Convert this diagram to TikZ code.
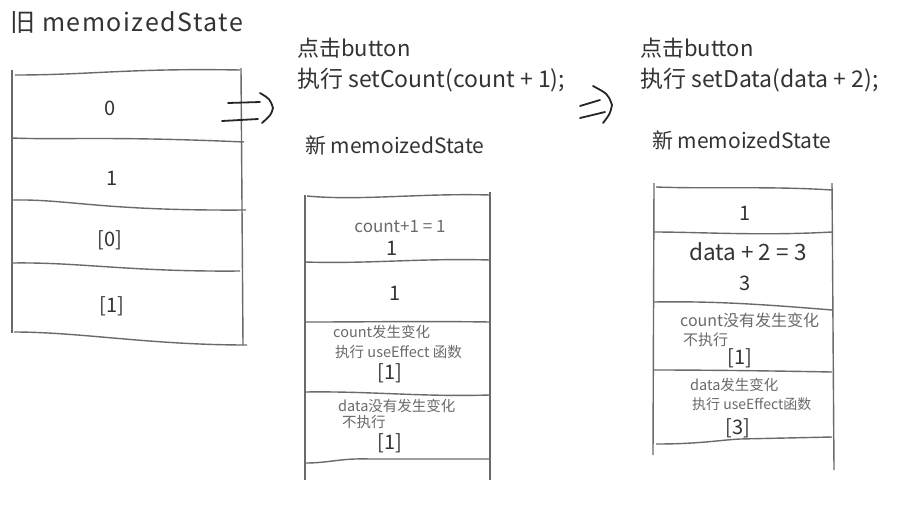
\documentclass[tikz,border=0pt]{standalone}
\usepackage{fontspec}
\setmainfont{Noto Sans CJK SC}
\usepackage{xcolor}
\usepackage{tikz}
\usetikzlibrary{calc, positioning}

\definecolor{ink}{HTML}{333333}
\definecolor{pen}{HTML}{6A6A6A}

\tikzset{
  title/.style={anchor=west, inner sep=0pt, text=ink, font=\fontsize{22}{26}\selectfont},
  val/.style={inner sep=0pt, text=ink, font=\fontsize{20}{24}\selectfont},
  note/.style={anchor=west, inner sep=0pt, text=pen, font=\fontsize{14.5}{17}\selectfont},
  edge/.style={draw=pen, line width=1.4pt},
  jump/.style={draw=black!85, line width=1.8pt, line cap=round}
}

\begin{document}
\begin{tikzpicture}[x=1pt, y=-1pt]
        \useasboundingbox[fill=white] (0,0) rectangle (915,512);

        % Tiêu đề
        \node[title, font=\fontsize{25}{29}\selectfont\addfontfeatures{LetterSpace=6}] (oldtitle) at (10,22) {旧 memoizedState};
        \node[title] (click1) at (297,48) {点击button};
        \node[title, font=\fontsize{23}{27}\selectfont] (run1) at (297,80) {执行 setCount(count + 1);};
        \node[title, font=\fontsize{21}{25}\selectfont] (newtitle1) at (305,145) {新 memoizedState};
        \node[title] (click2) at (640,48) {点击button};
        \node[title, font=\fontsize{23}{27}\selectfont] (run2) at (640,80) {执行 setData(data + 2);};
        \node[title, font=\fontsize{21}{25}\selectfont] (newtitle2) at (652,140) {新 memoizedState};

        % Bảng cũ
        \draw[edge] (12,70) -- (12,333);
        \draw[edge] (241,68) -- (243,345);
        \draw[edge] (15,75) .. controls (90,75) and (130,68) .. (240,70);
        \draw[edge] (12,138) .. controls (60,140) and (110,136) .. (244,142);
        \draw[edge] (12,200) .. controls (70,199) and (100,211) .. (246,210);
        \draw[edge] (12,263) .. controls (80,262) and (130,272) .. (240,271);
        \draw[edge] (14,332) .. controls (80,332) and (150,345) .. (247,345);

        \node[val] (old0) at (110,108) {0};
        \node[val] (old1) at (112,178) {1};
        \node[val] (olddep0) at (110,240) {[0]};
        \node[val] (olddep1) at (112,306) {[1]};

        % Mũi tên thứ nhất
        \draw[jump] (228,103) -- (260,102);
        \draw[jump] (222,121) -- (258,119);
        \draw[jump] (260,93) .. controls (270,99) .. (273,108) .. controls (271,115) .. (262,123);

        % Bảng mới sau setCount
        \draw[edge] (305,195) -- (305,480);
        \draw[edge] (490,192) -- (490,480);
        \draw[edge] (307,196) .. controls (360,201) and (420,193) .. (490,195);
        \draw[edge] (305,262) .. controls (370,264) and (420,258) .. (490,260);
        \draw[edge] (305,322) .. controls (370,322) and (420,321) .. (490,322);
        \draw[edge] (305,392) .. controls (370,391) and (420,397) .. (490,395);
        \draw[edge] (305,463) .. controls (330,463) and (340,458) .. (370,459) -- (490,459);

        \node[val, font=\fontsize{17}{20}\selectfont, text=pen] (sum1) at (400,227) {count+1 = 1};
        \node[val] (cnt1) at (392,248) {1};
        \node[val] (data1) at (395,293) {1};
        \node[note] (chg1) at (333,332) {count发生变化};
        \node[note] (eff1) at (335,352) {执行 useEffect 函数};
        \node[val] (dep1a) at (390,373) {[1]};
        \node[note] (same1) at (338,406) {data没有发生变化};
        \node[note] (skip1) at (342,422) {不执行};
        \node[val] (dep1b) at (390,443) {[1]};

        % Mũi tên thứ hai
        \draw[jump] (580,106) -- (600,100);
        \draw[jump] (580,118) -- (605,112);
        \draw[jump] (593,86) .. controls (608,94) .. (612,105) .. controls (610,114) .. (603,123);

        % Bảng mới sau setData
        \draw[edge] (654,183) -- (653,455);
        \draw[edge] (832,183) -- (834,470);
        \draw[edge] (656,187) .. controls (710,189) and (770,186) .. (832,190);
        \draw[edge] (654,232) .. controls (700,232) and (760,236) .. (832,232);
        \draw[edge] (654,302) .. controls (710,301) and (760,304) .. (832,310);
        \draw[edge] (654,370) .. controls (710,370) and (780,371) .. (832,372);
        \draw[edge] (656,444) .. controls (700,444) and (720,440) .. (740,439) -- (832,437);

        \node[val] (cnt2) at (745,213) {1};
        \node[val, font=\fontsize{22.5}{26}\selectfont] (sum2) at (748,252) {data + 2 = 3};
        \node[val] (data2) at (745,283) {3};
        \node[note, font=\fontsize{16}{19}\selectfont] (same2) at (680,320) {count没有发生变化};
        \node[note, font=\fontsize{15}{18}\selectfont] (skip2) at (683,340) {不执行};
        \node[val] (dep2a) at (740,358) {[1]};
        \node[note] (chg2) at (690,385) {data发生变化};
        \node[note, font=\fontsize{14}{17}\selectfont] (eff2) at (692,404) {执行 useEffect函数};
        \node[val] (dep2b) at (738,428) {[3]};

    \end{tikzpicture}
\end{document}
